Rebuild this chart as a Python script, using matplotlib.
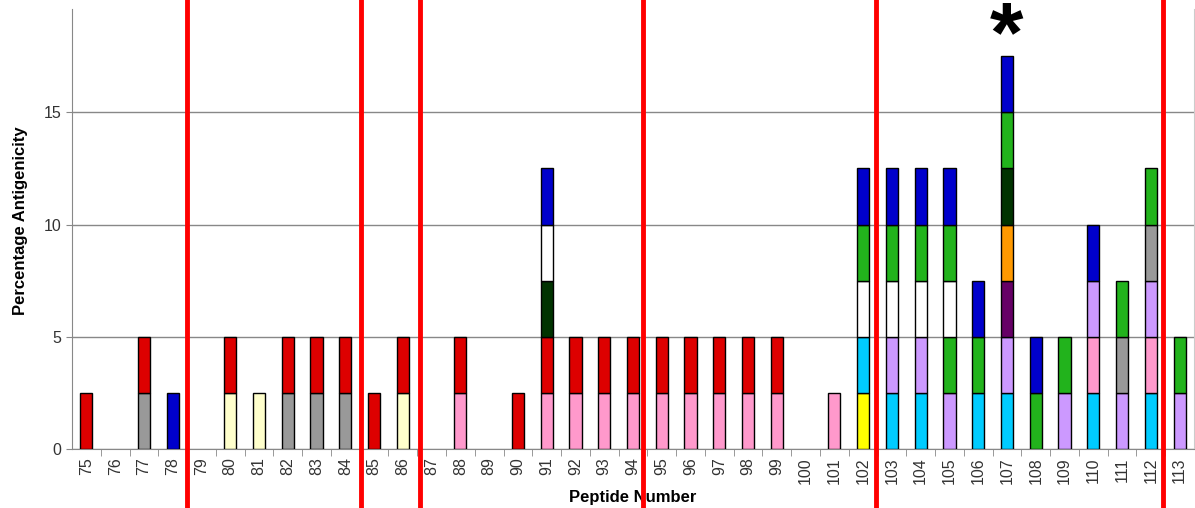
import matplotlib.pyplot as plt
from matplotlib.lines import Line2D
from matplotlib.transforms import blended_transform_factory

plt.rcParams['font.family'] = ['Liberation Sans', 'DejaVu Sans']

peptides = list(range(75, 114))
# stacked segments per peptide, bottom to top, one letter per 2.5 % block
stacks = ['r', '', 'ar', 'b', '', 'cr', 'c', 'ar', 'ar', 'ar',
          'r', 'cr', '', 'pr', '', 'r', 'prdwb', 'pr', 'pr', 'pr',
          'pr', 'pr', 'pr', 'pr', 'pr', '', 'p', 'ykwgb', 'klwgb', 'klwgb',
          'lgwgb', 'kgb', 'kluodgb', 'gb', 'lg', 'kplb', 'lag', 'kplag', 'lg']
block = 2.5
colours = {'r': '#DD0000', 'a': '#999999', 'b': '#0000CC', 'c': '#FFFFCC',
           'p': '#FF99CC', 'd': '#003300', 'w': '#FFFFFF', 'y': '#FFFF00',
           'k': '#00CCFF', 'g': '#22B31C', 'l': '#CC99FF', 'u': '#660066',
           'o': '#FF9900'}
red_lines = [78.5, 84.55, 86.6, 94.35, 102.45, 112.42]
star_peptide = 107

fig = plt.figure(figsize=(11.95, 5.08), dpi=100)
ax = fig.add_axes([72/1195, 59/508, 1122/1195, 440/508])

for pep, s in zip(peptides, stacks):
	bottom = 0
	for ch in s:
		ax.bar(pep, block, bottom=bottom, width=0.42, color=colours[ch],
			edgecolor='black', linewidth=1, zorder=3)
		bottom += block

ax.set_xlim(peptides[0] - 0.5, peptides[-1] + 0.5)
ax.set_ylim(0, 19.6)
ax.set_yticks([0, 5, 10, 15])
ax.yaxis.grid(True, color='#888888', linewidth=1, zorder=0)
ax.set_xticks(peptides)
ax.set_xticklabels([str(p) for p in peptides], rotation=90, fontsize=11.5, color='#333333')
ax.set_xticks([p + 0.5 for p in peptides[:-1]], minor=True)
ax.tick_params(axis='x', which='major', length=0, pad=6)
ax.tick_params(axis='x', which='minor', length=5, color='#888888')
ax.tick_params(axis='y', length=4, color='#888888', labelsize=11.5, labelcolor='#333333')
for side in ['left', 'bottom']:
	ax.spines[side].set_color('#888888')
ax.spines['top'].set_visible(False)
ax.spines['right'].set_color('#cccccc')

ax.set_xlabel('Peptide Number', fontsize=12, fontweight='bold', labelpad=4)
ax.set_ylabel('Percentage Antigenicity', fontsize=12, fontweight='bold')
ax.yaxis.set_label_coords(-0.039, 0.52)

trans = blended_transform_factory(ax.transData, fig.transFigure)
for x in red_lines:
	fig.add_artist(Line2D([x, x], [0, 1], transform=trans, color='#FF0000', linewidth=3.5, zorder=5))

ax.text(star_peptide, 18.25, '*', ha='center', va='center', fontsize=62,
	fontweight='bold', clip_on=False)

fig.savefig('out.png', dpi=100)
